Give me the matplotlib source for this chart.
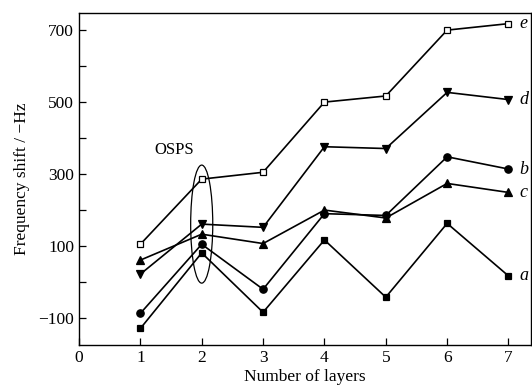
import numpy as np
import matplotlib.pyplot as plt
from matplotlib.patches import Ellipse

plt.rcParams['font.family'] = 'Liberation Serif'

layers = [1, 2, 3, 4, 5, 6, 7]

# frequency shift (-Hz) for each film
shift_a = [-129, 81, -84, 117, -42, 163, 17]
shift_b = [-87, 105, -20, 190, 185, 348, 314]
shift_c = [61, 133, 107, 200, 178, 274, 249]
shift_d = [22, 161, 152, 376, 371, 527, 507]
shift_e = [105, 286, 305, 500, 517, 700, 718]

curves = [
	(shift_e, 's', 'white', 'e', 5.0),
	(shift_d, 'v', 'black', 'd', 5.8),
	(shift_b, 'o', 'black', 'b', 5.3),
	(shift_c, '^', 'black', 'c', 5.8),
	(shift_a, 's', 'black', 'a', 5.0),
]

fig = plt.figure(figsize=(5.32, 3.89), dpi=100)
ax = fig.add_axes([0.1485, 0.113, 0.85, 0.854])

for y, m, fc, name, ms in curves:
	ax.plot(layers, y, c='black', lw=1.2, marker=m, ms=ms,
		markerfacecolor=fc, markeredgecolor='black', markeredgewidth=0.9)
	ax.text(layers[-1] + 0.18, y[-1], name, fontsize=13, style='italic',
		va='center', ha='left')

# OSPS group around the 2-layer points
ax.add_patch(Ellipse((2, 161), 0.36, 328, fill=False, ec='black', lw=0.9))
ax.text(1.55, 367, 'OSPS', fontsize=12, ha='center', va='center')

ax.set_xlim(0, 7.37)
ax.set_ylim(-175, 748)
ax.set_xticks(range(8))
ax.set_yticks(range(-100, 800, 100))
ax.set_yticklabels(['\u2212100', '', '100', '', '300', '', '500', '', '700'])
ax.tick_params(direction='in', length=5, width=0.9, labelsize=12.5)
for s in ax.spines.values():
	s.set_linewidth(1.0)

ax.set_xlabel('Number of layers', fontsize=12.5, labelpad=2.5)
ax.set_ylabel('Frequency shift / \u2212Hz', fontsize=12.5, labelpad=6)

fig.savefig('out.png', dpi=100)
